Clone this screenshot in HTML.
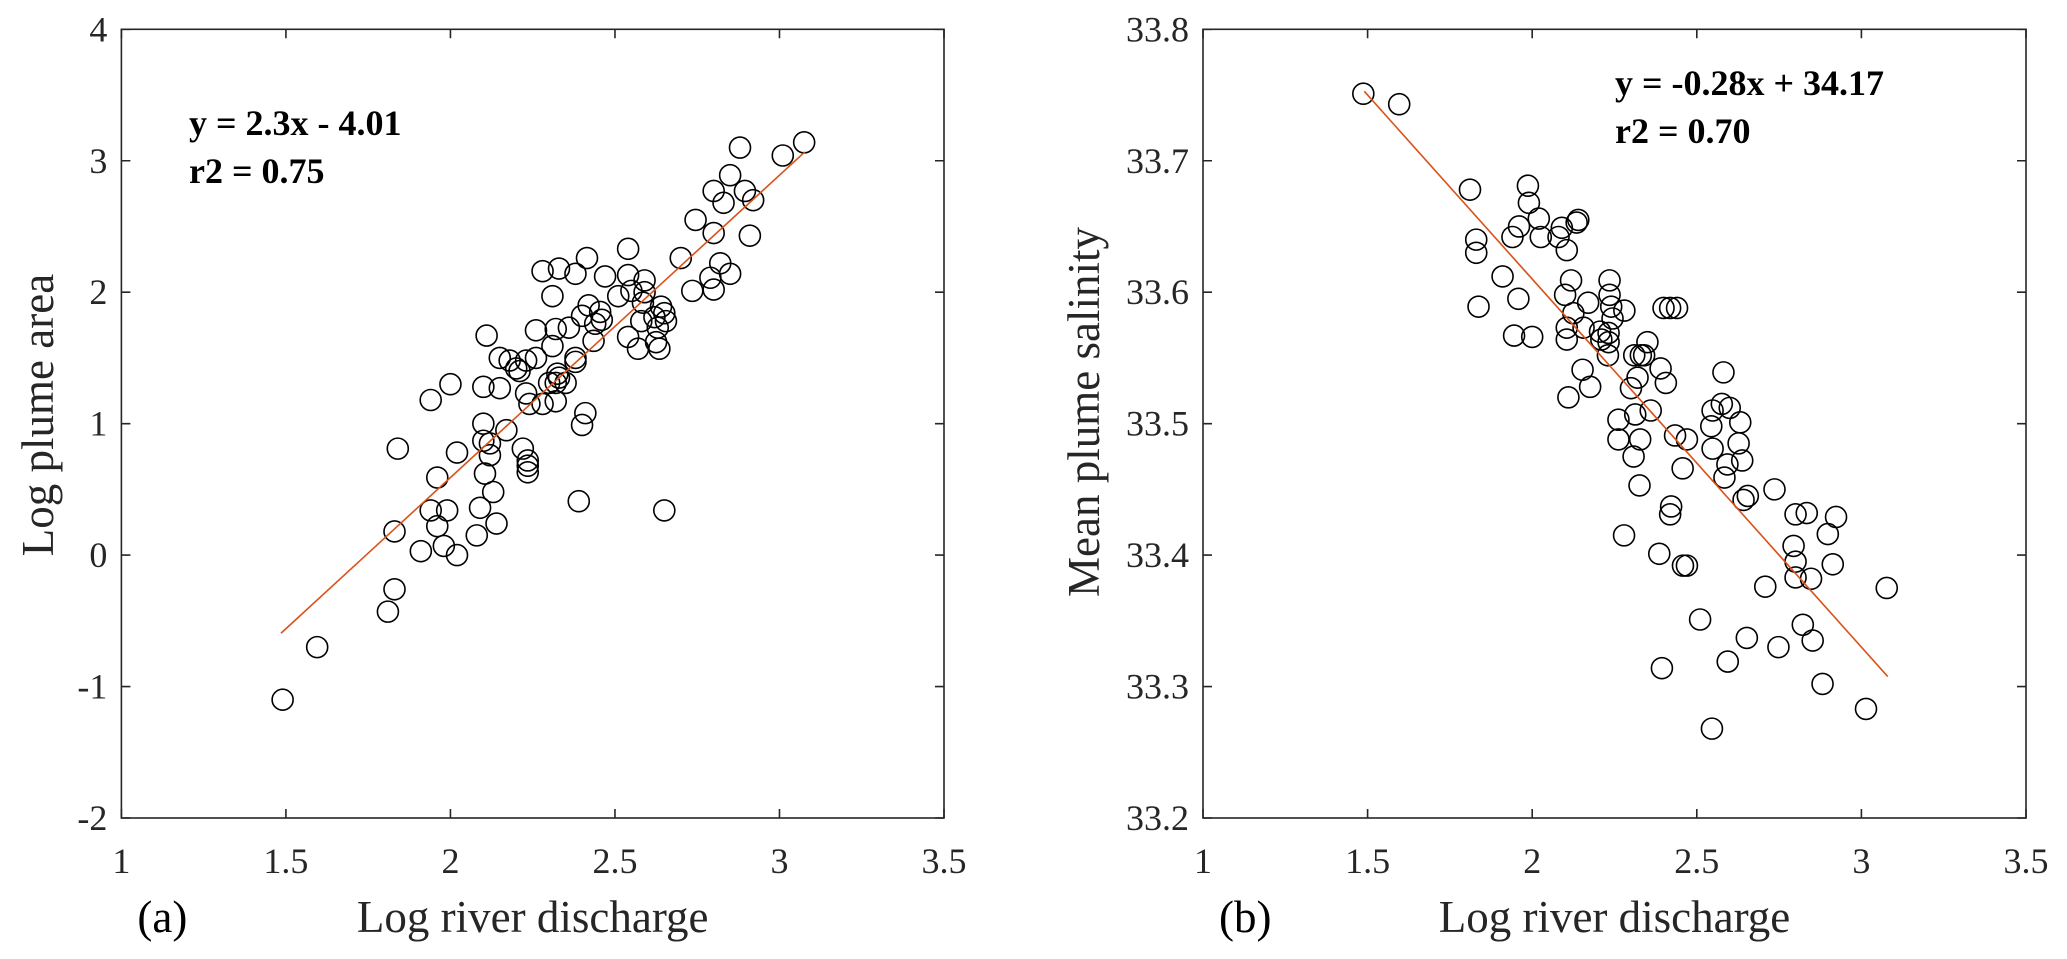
<!DOCTYPE html>
<html><head><meta charset="utf-8"><style>
html,body{margin:0;padding:0;background:#fff;}
svg{display:block;font-family:"Liberation Serif","Times New Roman",serif;}
</style></head><body>
<svg id="fig" width="2067" height="959" viewBox="0 0 2067 959">
<g id="pa"></g>
<g id="pb"></g>
</svg>
<script>
// Panel (a) data
const aX = [2.88,3.01,3.075,2.85,2.80,2.895,2.83,2.92,2.745,2.80,2.91,2.54,2.70,2.415,2.28,2.33,2.38,2.47,2.54,2.59,2.82,2.85,2.79,2.80,2.735,2.31,2.51,2.55,2.59,2.42,2.40,2.455,2.46,2.44,2.585,2.64,2.65,2.58,2.62,2.655,2.63,2.54,2.57,2.625,2.635,2.435,2.36,2.32,2.26,2.11,2.15,2.18,2.20,2.21,2.23,2.26,2.31,2.38,2.38,2.325,2.33,2.32,2.30,2.35,2.00,2.10,2.15,1.94,2.23,2.24,2.28,2.32,2.41,2.40,2.10,2.17,1.84,2.02,2.10,2.12,2.12,2.22,2.235,2.235,2.235,1.96,2.105,2.13,2.39,2.65,1.94,1.99,1.96,2.09,1.83,2.14,2.08,1.91,1.98,2.02,1.83,1.81,1.595,1.49];
const aY = [3.10,3.04,3.14,2.89,2.77,2.77,2.68,2.70,2.55,2.45,2.43,2.33,2.26,2.26,2.16,2.18,2.14,2.12,2.13,2.09,2.22,2.14,2.11,2.02,2.01,1.97,1.97,2.01,2.00,1.90,1.82,1.85,1.79,1.76,1.92,1.89,1.84,1.78,1.81,1.78,1.73,1.66,1.57,1.62,1.57,1.63,1.73,1.72,1.71,1.67,1.50,1.48,1.42,1.40,1.48,1.50,1.59,1.50,1.47,1.38,1.35,1.31,1.31,1.31,1.30,1.28,1.27,1.18,1.23,1.15,1.15,1.17,1.08,0.99,1.00,0.95,0.81,0.78,0.87,0.85,0.76,0.81,0.72,0.68,0.63,0.59,0.62,0.48,0.41,0.34,0.34,0.34,0.22,0.36,0.18,0.24,0.15,0.03,0.07,0.00,-0.26,-0.43,-0.70,-1.10];
const aFit = [2.3, -4.01];
const aFitRange = [1.485, 3.077];
const aXTicks = [1,1.5,2,2.5,3,3.5];
const aYTicks = [-2,-1,0,1,2,3,4];

// Panel (b) data
const bX = [1.487,1.596,1.811,1.987,1.99,2.02,1.96,1.94,2.026,2.09,2.135,2.14,2.08,2.105,1.83,1.83,1.91,1.958,1.837,1.945,2.00,2.118,2.10,2.235,2.235,2.17,2.28,2.24,2.125,2.244,2.105,2.156,2.105,2.206,2.232,2.232,2.21,2.23,2.399,2.419,2.44,2.35,2.31,2.33,2.34,2.39,2.406,2.153,2.176,2.11,2.30,2.581,2.548,2.576,2.60,2.262,2.313,2.36,2.32,2.262,2.328,2.308,2.434,2.47,2.457,2.326,2.544,2.632,2.548,2.627,2.638,2.593,2.584,2.655,2.642,2.736,2.422,2.419,2.279,2.386,2.458,2.47,2.80,2.834,2.923,2.898,2.794,2.80,2.80,2.847,2.913,2.708,3.077,2.51,2.652,2.822,2.852,2.748,2.594,2.394,2.882,3.014,2.546];
const bY = [33.751,33.743,33.678,33.681,33.668,33.656,33.650,33.642,33.642,33.649,33.653,33.655,33.642,33.632,33.640,33.630,33.612,33.595,33.589,33.567,33.566,33.609,33.598,33.609,33.598,33.592,33.586,33.589,33.584,33.580,33.573,33.573,33.564,33.570,33.569,33.562,33.564,33.552,33.588,33.588,33.588,33.562,33.552,33.552,33.552,33.542,33.531,33.541,33.528,33.520,33.527,33.539,33.510,33.515,33.512,33.503,33.507,33.510,33.535,33.488,33.488,33.475,33.491,33.488,33.466,33.453,33.498,33.501,33.481,33.485,33.472,33.469,33.459,33.445,33.442,33.450,33.437,33.431,33.415,33.401,33.392,33.392,33.431,33.432,33.429,33.416,33.407,33.395,33.383,33.382,33.393,33.376,33.375,33.351,33.337,33.347,33.335,33.330,33.319,33.314,33.302,33.283,33.268];
const bFit = [-0.28, 34.17];
const bFitRange = [1.49, 3.08];
const bXTicks = [1,1.5,2,2.5,3,3.5];
const bYTicks = [33.2,33.3,33.4,33.5,33.6,33.7,33.8];

const NS = "http://www.w3.org/2000/svg";
function mk(parent, tag, attrs, text){
  const e = document.createElementNS(NS, tag);
  for (const k in attrs) e.setAttribute(k, attrs[k]);
  if (text !== undefined) e.textContent = text;
  parent.appendChild(e);
  return e;
}
function drawPanel(g, o){
  const L=o.left, R=o.right, T=29.3, B=818;
  const sx = v => L + (v - o.xmin) / (o.xmax - o.xmin) * (R - L);
  const sy = v => B - (v - o.ymin) / (o.ymax - o.ymin) * (B - T);
  const box = mk(g,'rect',{x:L,y:T,width:R-L,height:B-T,fill:'none',stroke:'#262626','stroke-width':1.6});
  
  
  o.xt.forEach(t=>{
    const x = sx(t);
    const tk = mk(g,'path',{d:`M${x},${B}V${B-9}M${x},${T}V${T+9}`,stroke:'#262626','stroke-width':1.6});
    
    
    const lb = mk(g,'text',{x:x,y:873,'text-anchor':'middle','font-size':36,fill:'#262626'}, String(t));
    
    
  });
  o.yt.forEach(t=>{
    const y = sy(t);
    const tk = mk(g,'path',{d:`M${L},${y}H${L+9}M${R},${y}H${R-9}`,stroke:'#262626','stroke-width':1.6});
    
    
    const lb = mk(g,'text',{x:L-14,y:y+12,'text-anchor':'end','font-size':36,fill:'#262626'}, String(t));
    
    
  });
  for (let i=0;i<o.xs.length;i++){
    const c = mk(g,'circle',{cx:sx(o.xs[i]),cy:sy(o.ys[i]),r:10.5,fill:'none',stroke:'#000','stroke-width':1.6});
    
    
  }
  const x0=o.fr[0], x1=o.fr[1];
  const ln = mk(g,'line',{x1:sx(x0),y1:sy(o.fit[0]*x0+o.fit[1]),x2:sx(x1),y2:sy(o.fit[0]*x1+o.fit[1]),stroke:'#D95319','stroke-width':1.6});
  
  
  const e1 = mk(g,'text',{x:o.eqx,y:o.eqy,'font-size':36,'font-weight':'bold',fill:'#000'}, o.eq1);
  
  
  const e2 = mk(g,'text',{x:o.eqx,y:o.eqy+48,'font-size':36,'font-weight':'bold',fill:'#000'}, o.eq2);
  
  
  const xt = mk(g,'text',{x:(L+R)/2,y:932,'text-anchor':'middle','font-size':45,fill:'#262626'}, 'Log river discharge');
  
  
  const pl = mk(g,'text',{x:L+16,y:932,'font-size':45,fill:'#000'}, o.panel);
  
  
  const yt = mk(g,'text',{x:0,y:0,'text-anchor':'middle','font-size':45,fill:'#262626',transform:`translate(${o.ytx},${o.yty}) rotate(-90)`}, o.ytitle);
  
  
}
drawPanel(document.getElementById('pa'), {left:121.4,right:944,xmin:1,xmax:3.5,ymin:-2,ymax:4,xt:aXTicks,yt:aYTicks,xs:aX,ys:aY,fit:aFit,fr:aFitRange,eqx:189,eqy:135,eq1:'y = 2.3x - 4.01',eq2:'r2 = 0.75',panel:'(a)',ytitle:'Log plume area',ytx:53,yty:415});
drawPanel(document.getElementById('pb'), {left:1203,right:2026,xmin:1,xmax:3.5,ymin:33.2,ymax:33.8,xt:bXTicks,yt:bYTicks,xs:bX,ys:bY,fit:bFit,fr:bFitRange,eqx:1615,eqy:95,eq1:'y = -0.28x + 34.17',eq2:'r2 = 0.70',panel:'(b)',ytitle:'Mean plume salinity',ytx:1099,yty:412});
</script>
</body></html>
